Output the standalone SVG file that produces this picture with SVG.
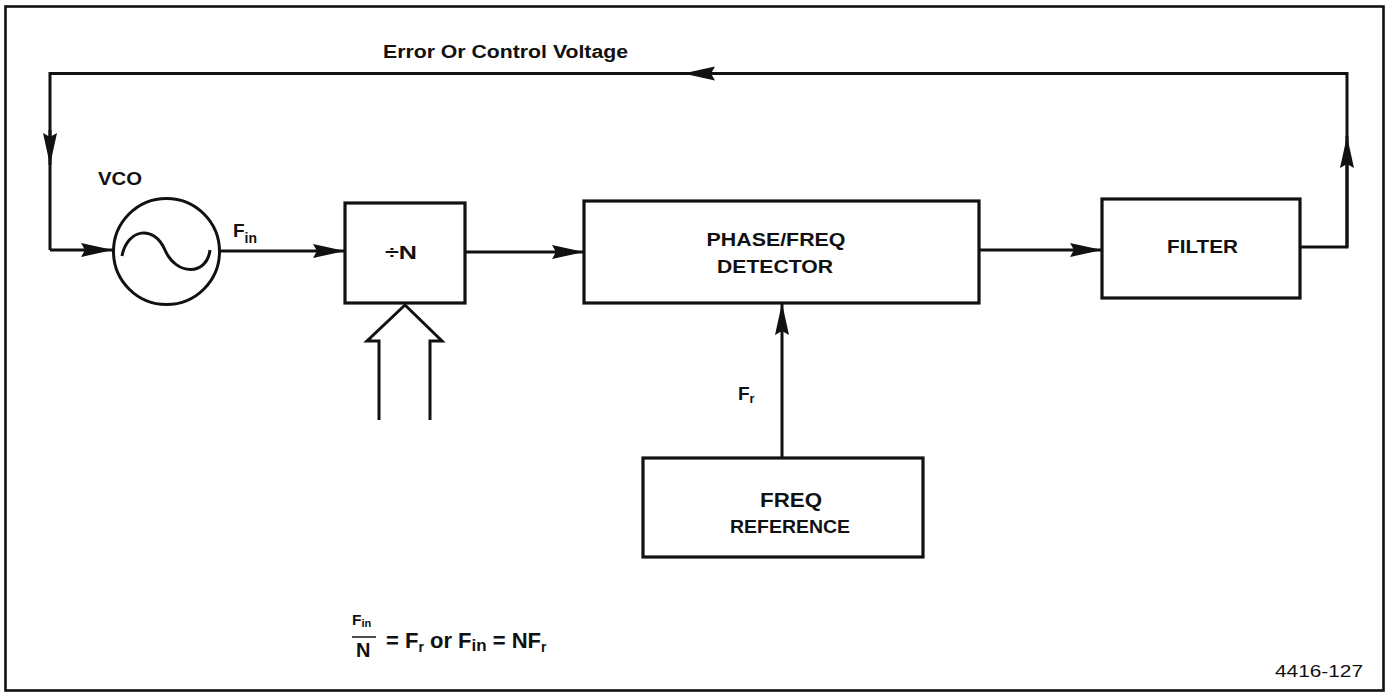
<svg xmlns="http://www.w3.org/2000/svg" width="1390" height="692" viewBox="0 0 1390 692">
<style>
.ln{fill:none;stroke:#111;stroke-width:3;stroke-linejoin:miter}
.bx{fill:#fff;stroke:#111;stroke-width:3.2}
.t{font-family:"Liberation Sans",Arial,sans-serif;font-weight:bold;fill:#111}
</style>
<defs>
<marker id="ah" viewBox="0 0 32 15" refX="32" refY="7.5" markerWidth="32" markerHeight="15" markerUnits="userSpaceOnUse" orient="auto">
<path d="M0,0.5 L32,7.5 L0,14.5 L4,7.5 z" fill="#111"/>
</marker>
</defs>
<rect width="1390" height="692" fill="#fff"/>
<rect x="5.5" y="6.5" width="1378" height="684" fill="none" stroke="#111" stroke-width="2.6"/>

<g id="connectors">
<path class="ln" d="M683,73.5 L1347,73.5 L1347,247 L1300,247"/>
<path class="ln" d="M1347,247 L1347,136" marker-end="url(#ah)"/>
<path class="ln" d="M683,73.5 L50,73.5 L50,250"/>
<path class="ln" d="M714,73.5 L683,73.5" marker-end="url(#ah)"/>
<path class="ln" d="M50,130 L50,165" marker-end="url(#ah)"/>
<path class="ln" d="M50,250 L113,250" marker-end="url(#ah)"/>
<path class="ln" d="M220,251 L345,251" marker-end="url(#ah)"/>
<path class="ln" d="M465,252 L584,252" marker-end="url(#ah)"/>
<path class="ln" d="M979,250 L1102,250" marker-end="url(#ah)"/>
<path class="ln" d="M782,458 L782,303" marker-end="url(#ah)"/>
<path class="ln" d="M379,420 L379,341 L367,341 L405,305 L442,341 L430,341 L430,420" stroke-width="2.8"/>
</g>

<g id="label-error">
<text class="t" x="383" y="58" font-size="18" textLength="245" lengthAdjust="spacingAndGlyphs">Error Or Control Voltage</text>
</g>

<g id="vco">
<circle cx="166.5" cy="251.5" r="53" fill="#fff" stroke="#111" stroke-width="3"/>
<path d="M122,256 C127,229 154,224 165,250 C176,276 207,276 210,250" fill="none" stroke="#111" stroke-width="3"/>
<text class="t" x="98" y="185" font-size="19" textLength="44" lengthAdjust="spacingAndGlyphs">VCO</text>
<text class="t" x="233" y="237" font-size="19">F<tspan font-size="14" dy="6">in</tspan></text>
</g>

<g id="divider">
<rect class="bx" x="345" y="203" width="120" height="100"/>
<text class="t" x="385" y="259" font-size="19" textLength="32" lengthAdjust="spacingAndGlyphs">÷N</text>
</g>

<g id="detector">
<rect class="bx" x="584" y="201" width="395" height="102"/>
<text class="t" x="776" y="246" font-size="19" text-anchor="middle" textLength="139" lengthAdjust="spacingAndGlyphs">PHASE/FREQ</text>
<text class="t" x="775" y="273" font-size="19" text-anchor="middle" textLength="116" lengthAdjust="spacingAndGlyphs">DETECTOR</text>
</g>

<g id="filter">
<rect class="bx" x="1102" y="199" width="198" height="99"/>
<text class="t" x="1202.5" y="253" font-size="19" text-anchor="middle" textLength="71" lengthAdjust="spacingAndGlyphs">FILTER</text>
</g>

<g id="freqref">
<rect class="bx" x="643" y="458" width="280" height="99"/>
<text class="t" x="791" y="507" font-size="20" text-anchor="middle" textLength="62" lengthAdjust="spacingAndGlyphs">FREQ</text>
<text class="t" x="790" y="533" font-size="19" text-anchor="middle" textLength="120" lengthAdjust="spacingAndGlyphs">REFERENCE</text>
</g>

<g id="label-fr">
<text class="t" x="738" y="400" font-size="19">F<tspan font-size="13" dy="3">r</tspan></text>
</g>

<g id="equation">
<text class="t" x="352" y="625" font-size="15.5">F<tspan font-size="11" dy="2">in</tspan></text>
<line x1="352" y1="637" x2="376" y2="637" stroke="#111" stroke-width="1.5"/>
<text class="t" x="356" y="657" font-size="20">N</text>
<text class="t" x="386" y="648" font-size="22">= F<tspan font-size="14" dy="4">r</tspan><tspan dy="-4"> or F</tspan><tspan font-size="17" dy="3">in</tspan><tspan dy="-3"> = NF</tspan><tspan font-size="14" dy="4">r</tspan></text>
</g>

<g id="figure-number">
<text x="1275" y="677" font-family="'Liberation Sans',Arial,sans-serif" font-size="17" fill="#111" textLength="88" lengthAdjust="spacingAndGlyphs">4416-127</text>
</g>
</svg>
